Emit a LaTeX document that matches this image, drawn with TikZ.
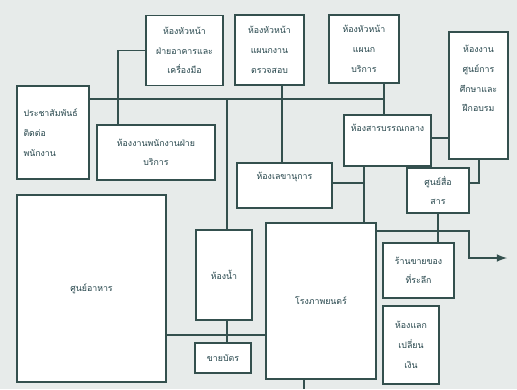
\documentclass[tikz,border=0pt]{standalone}
\usepackage{fontspec}
\newfontfamily\thaifont[Script=Thai]{Loma}
\usetikzlibrary{positioning}

\definecolor{paper}{HTML}{E7EBEA}
\definecolor{ink}{HTML}{34504E}
\definecolor{inktext}{HTML}{24444A}

\tikzset{
  room/.style={draw=ink, line width=0.9pt, fill=white, align=center, inner sep=1pt,
    font=\thaifont\fontsize{5}{11.2}\selectfont, text=inktext},
  txt/.style={align=center, inner sep=0pt, font=\thaifont\fontsize{5}{11.2}\selectfont, text=inktext},
  wire/.style={draw=ink, line width=1pt}
}

\begin{document}
\begin{tikzpicture}[x=0.02cm, y=-0.02cm]
\fill[paper] (0,0) rectangle (517,389);
\useasboundingbox (0,0) rectangle (517,389);

% top row of offices
\node[room, minimum width=1.54cm, minimum height=1.4cm] (hnAkhan) at (184.5,50.5) {ห้องหัวหน้า\\ฝ่ายอาคารและ\\เครื่องมือ};
\node[room, minimum width=1.38cm, minimum height=1.4cm] (hnPhaen) at (269.5,50) {ห้องหัวหน้า\\แผนกงาน\\ตรวจสอบ};
\node[room, minimum width=1.4cm, minimum height=1.36cm] (hnBorikan) at (364,49) {ห้องหัวหน้า\\แผนก\\บริการ};
\node[room, minimum width=1.18cm, minimum height=2.54cm] (ngSun) at (478.5,95.5) {};
\node[txt, below=0.28cm of ngSun.north] (ngSunTxt) {ห้องงาน\\ศูนย์การ\\ศึกษาและ\\ฝึกอบรม};

% left side
\node[room, minimum width=1.44cm, minimum height=1.86cm, text width=1.18cm, align=left] (prasam) at (53,132.5) {ประชาสัมพันธ์\\ติดต่อ\\พนักงาน};
\node[room, minimum width=2.36cm, minimum height=1.1cm] (ngPhanak) at (156,152.5) {ห้องงานพนักงานฝ่าย\\บริการ};
\node[room, minimum width=2.98cm, minimum height=3.74cm] (sunAhan) at (91.5,288.5) {ศูนย์อาหาร};

% middle
\node[room, minimum width=1.74cm, minimum height=1.02cm] (saraban) at (387.5,140.5) {};
\node[txt, below=0.2cm of saraban.north] (sarabanTxt) {ห้องสารบรรณกลาง};
\node[room, minimum width=1.9cm, minimum height=0.9cm] (lekha) at (284.5,185.5) {};
\node[txt, below=0.2cm of lekha.north] (lekhaTxt) {ห้องเลขานุการ};
\node[room, minimum width=1.24cm, minimum height=0.9cm] (sueSan) at (438,190.5) {ศูนย์สื่อ\\สาร};
\node[room, minimum width=1.12cm, minimum height=1.8cm] (hongNam) at (224,275) {ห้องน้ำ};
\node[room, minimum width=1.12cm, minimum height=0.6cm] (khaiBat) at (223,358) {ขายบัตร};
\node[room, minimum width=2.2cm, minimum height=3.12cm] (rongPhap) at (321,301) {โรงภาพยนตร์};

% right bottom
\node[room, minimum width=1.42cm, minimum height=1.1cm] (ranKhai) at (418.5,270.5) {ร้านขายของ\\ที่ระลึก};
\node[room, minimum width=1.12cm, minimum height=1.56cm] (laekNgoen) at (411,345) {ห้องแลก\\เปลี่ยน\\เงิน};

% junction points
\coordinate (jA) at (118,99);
\coordinate (jB) at (282,99);
\coordinate (jC) at (227,99);
\coordinate (jD) at (384,99);
\coordinate (jE) at (364,183);
\coordinate (jF) at (479,183);
\coordinate (jG) at (469,231);
\coordinate (jK) at (0,335);
\coordinate (exit) at (507,258);
\coordinate (down) at (304,389);

% corridors
\draw[wire] (prasam.east |- jA) -- (jD);
\draw[wire] (hnAkhan.west) -| (ngPhanak.north -| jA);
\draw[wire] (hnPhaen.south -| jB) -- (lekha.north -| jB);
\draw[wire] (hnBorikan.south -| jD) -- (saraban.north -| jD);
\draw[wire] (jC) -- (hongNam.north -| jC);
\draw[wire] (hongNam.south -| jC) -- (khaiBat.north -| jC);
\draw[wire] (saraban.east |- 0,138) -- (ngSun.west |- 0,138);
\draw[wire] (lekha.east |- jE) -- (jE);
\draw[wire] (saraban.south -| jE) -- (rongPhap.north -| jE);
\draw[wire] (ngSun.south -| jF) -- (jF) -- (sueSan.east |- jF);
\draw[wire] (sueSan.south) -- (ranKhai.north -| sueSan.south);
\draw[wire, -latex] (rongPhap.east |- jG) -- (jG) |- (exit);
\draw[wire] (sunAhan.east |- jK) -- (rongPhap.west |- jK);
\draw[wire] (rongPhap.south -| down) -- (down);
\end{tikzpicture}
\end{document}
